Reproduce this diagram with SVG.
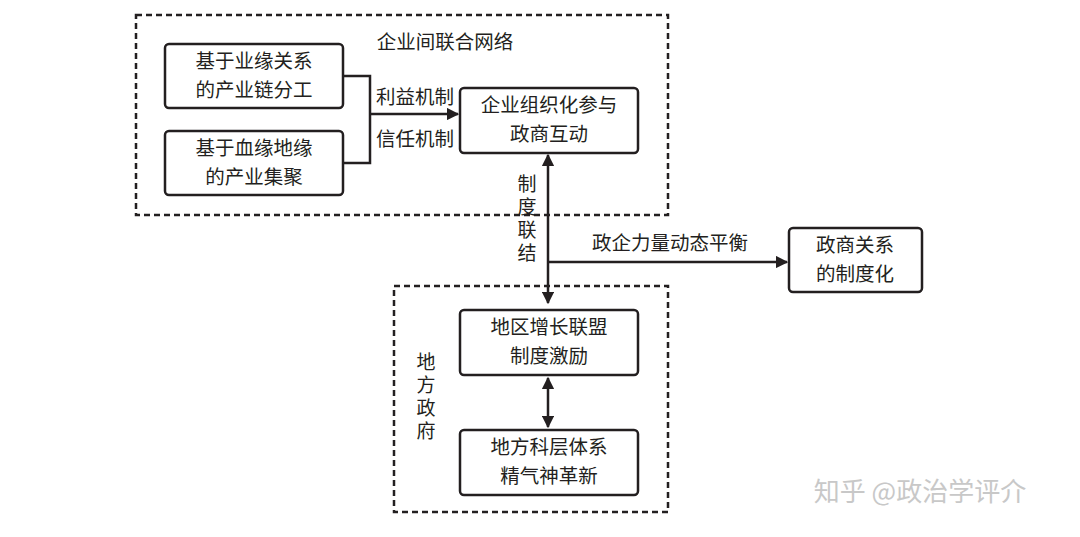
<svg xmlns="http://www.w3.org/2000/svg" width="1080" height="537" viewBox="0 0 1080 537">
<defs>
<style>
.b{fill:#fff;stroke:#231f20;stroke-width:2.5}
.d{fill:none;stroke:#231f20;stroke-width:2.5;stroke-dasharray:6 4}
.l{fill:none;stroke:#231f20;stroke-width:2.5}
text{font-family:"Noto Sans CJK SC",sans-serif;font-size:19.5px;fill:#231f20;text-anchor:middle}
.v{font-size:19px;writing-mode:vertical-rl;text-anchor:start;letter-spacing:4px}
</style>
<marker id="a" viewBox="0 0 10 10" refX="9" refY="5" markerWidth="5" markerHeight="5" orient="auto-start-reverse"><path d="M0,0L10,5L0,10z" fill="#231f20"/></marker>
</defs>
<rect width="1080" height="537" fill="#fff"/>
<g id="network"><rect class="d" x="136" y="15" width="532" height="200"/><text x="445" y="49">企业间联合网络</text></g>
<g id="gov"><rect class="d" x="394" y="286" width="274" height="226"/><text class="v" x="426" y="352">地方政府</text></g>
<g id="n1"><rect class="b" x="165" y="44" width="178" height="64" rx="4"/><text x="254" y="68">基于业缘关系</text><text x="254" y="97">的产业链分工</text></g>
<g id="n2"><rect class="b" x="165" y="131" width="178" height="64" rx="4"/><text x="254" y="155">基于血缘地缘</text><text x="254" y="184">的产业集聚</text></g>
<g id="n3"><rect class="b" x="460" y="88" width="178" height="65" rx="4"/><text x="549" y="112">企业组织化参与</text><text x="549" y="141">政商互动</text></g>
<g id="n4"><rect class="b" x="789" y="228" width="133" height="64" rx="4"/><text x="855" y="252">政商关系</text><text x="855" y="281">的制度化</text></g>
<g id="n5"><rect class="b" x="460" y="310" width="178" height="65" rx="4"/><text x="549" y="334">地区增长联盟</text><text x="549" y="363">制度激励</text></g>
<g id="n6"><rect class="b" x="460" y="430" width="178" height="65" rx="4"/><text x="549" y="454">地方科层体系</text><text x="549" y="483">精气神革新</text></g>
<g id="connectors">
<polyline class="l" points="343,76 370,76 370,163 343,163"/>
<line class="l" x1="370" y1="114" x2="458" y2="114" marker-end="url(#a)"/>
<text x="415" y="104">利益机制</text><text x="415" y="146">信任机制</text>
<line class="l" x1="548" y1="155" x2="548" y2="303" marker-start="url(#a)" marker-end="url(#a)"/>
<text class="v" x="527" y="174">制度联结</text>
<line class="l" x1="548" y1="262" x2="787" y2="262" marker-end="url(#a)"/>
<text x="670" y="250">政企力量动态平衡</text>
<line class="l" x1="548" y1="378" x2="548" y2="427" marker-start="url(#a)" marker-end="url(#a)"/>
</g>
<text x="920" y="501" style="font-size:26px;fill:#c8c8c8">知乎 @政治学评介</text>
</svg>
